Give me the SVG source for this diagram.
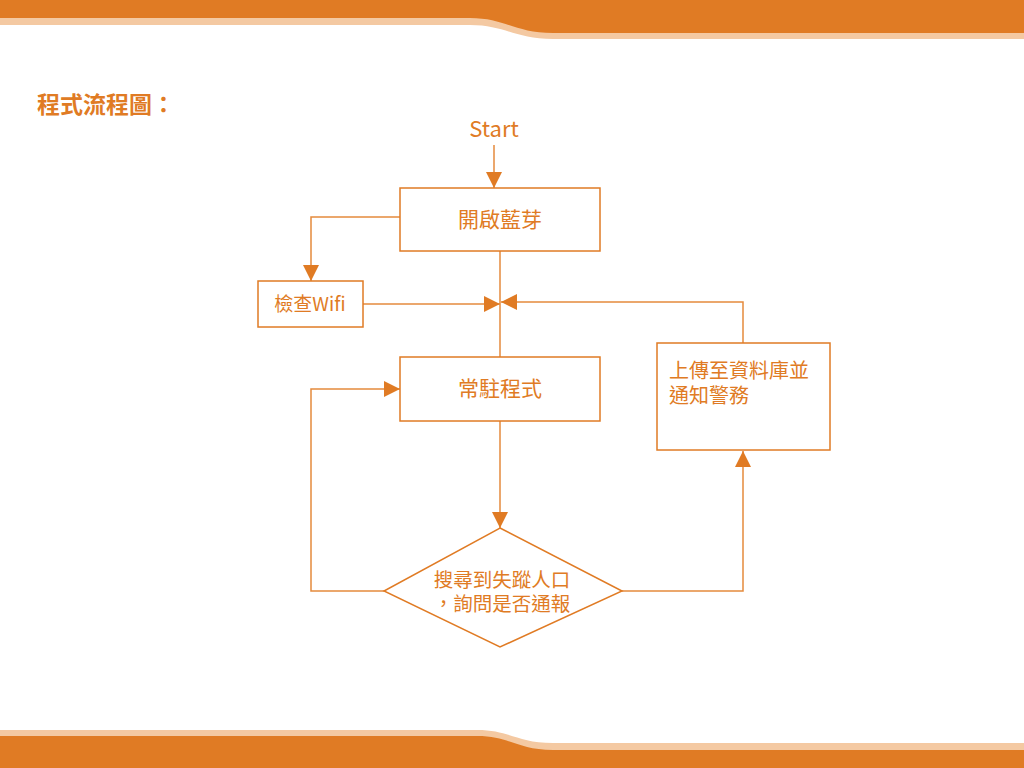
<svg xmlns="http://www.w3.org/2000/svg" width="1024" height="768" viewBox="0 0 1024 768">
<style>
.box{fill:#fff;stroke:#E07B24;stroke-width:1.5}
.ln{fill:none;stroke:#E58A3C;stroke-width:1.5}
.t{font-family:"Noto Sans CJK TC","Liberation Sans",sans-serif;fill:#E07B24;font-size:20px}
</style>
<defs>
<marker id="ah" markerUnits="userSpaceOnUse" markerWidth="16" markerHeight="16" viewBox="0 0 16 16" refX="16" refY="8" orient="auto">
<path d="M0,0 L16,8 L0,16 Z" fill="#E07B24"/>
</marker>
</defs>
<rect width="1024" height="768" fill="#fff"/>
<g id="topband">
<path d="M0,0 H1024 V39 H553 C515,39 505,25 470,25 H0 Z" fill="#F4C9A2"/>
<path d="M0,0 H1024 V33 H553 C515,33 505,18 470,18 H0 Z" fill="#E07B24"/>
</g>
<g id="bottomband">
<path d="M0,768 H1024 V743 H553 C517,743 510,730 477,730 H0 Z" fill="#F4C9A2"/>
<path d="M0,768 H1024 V750 H553 C517,750 510,736 477,736 H0 Z" fill="#E07B24"/>
</g>
<text x="37" y="113" class="t" style="font-size:23px;font-weight:bold">程式流程圖：</text>
<g id="connectors">
<path class="ln" d="M494,145 V188" marker-end="url(#ah)"/>
<path class="ln" d="M400,217 H311 V281" marker-end="url(#ah)"/>
<path class="ln" d="M363,304 H500" marker-end="url(#ah)"/>
<path class="ln" d="M743,343 V302 H501" marker-end="url(#ah)"/>
<path class="ln" d="M500,251 V357"/>
<path class="ln" d="M500,421 V528" marker-end="url(#ah)"/>
<path class="ln" d="M384,591 H311 V389 H400" marker-end="url(#ah)"/>
<path class="ln" d="M622,591 H743 V451" marker-end="url(#ah)"/>
</g>
<g id="start"><text x="494" y="137" class="t" style="font-size:22px" text-anchor="middle">Start</text></g>
<g id="bt"><rect class="box" x="400" y="188" width="200" height="63"/><text x="500" y="227" class="t" style="font-size:21px" text-anchor="middle">開啟藍芽</text></g>
<g id="wifi"><rect class="box" x="258" y="281" width="105" height="46"/><text x="310" y="311" class="t" style="font-size:19px" text-anchor="middle">檢查Wifi</text></g>
<g id="resident"><rect class="box" x="400" y="357" width="200" height="64"/><text x="500" y="396" class="t" style="font-size:21px" text-anchor="middle">常駐程式</text></g>
<g id="upload"><rect class="box" x="657" y="343" width="173" height="107"/><text x="669" y="378" class="t">上傳至資料庫並</text><text x="669" y="403" class="t">通知警務</text></g>
<g id="decision"><path class="box" d="M500,528 L622,591 L500,647 L384,591 Z"/><text x="502" y="587" class="t" style="font-size:19.5px" text-anchor="middle">搜尋到失蹤人口</text><text x="502" y="611" class="t" style="font-size:19.5px" text-anchor="middle">，詢問是否通報</text></g>
</svg>
